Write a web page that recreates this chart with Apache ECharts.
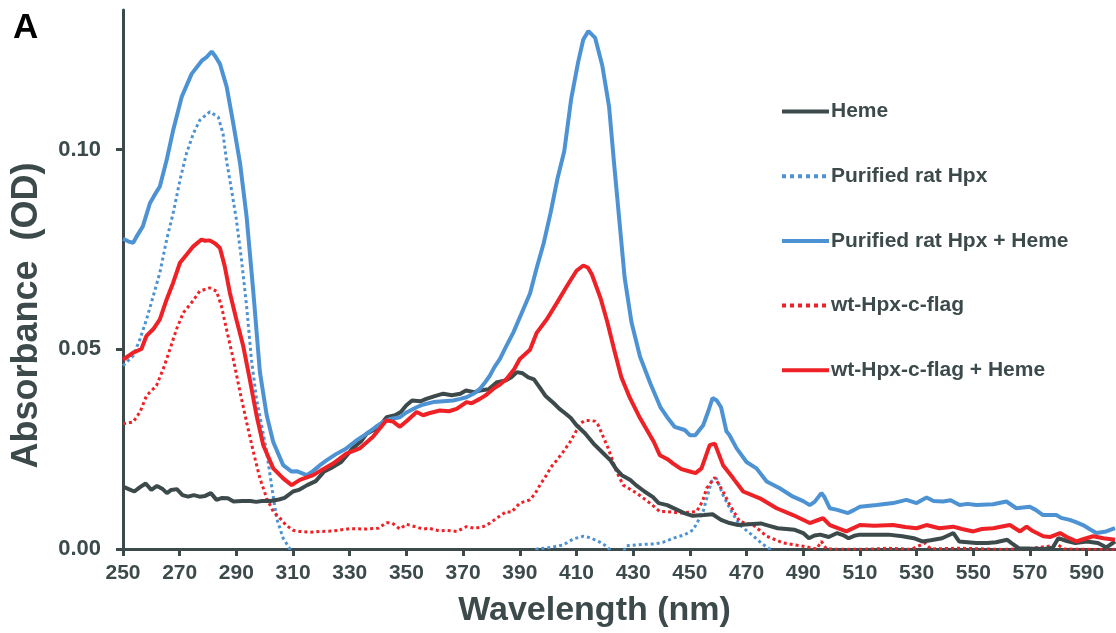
<!DOCTYPE html>
<html>
<head>
<meta charset="utf-8">
<script src="https://cdn.jsdelivr.net/npm/echarts@6/dist/echarts.min.js"></script>
<style>
  html, body { margin: 0; padding: 0; background: #fff; }
  #chartDiv { width: 1116px; height: 633px; }
</style>
</head>
<body>
<div id="chartDiv"></div>
<script>
// tick labels
var xTicks = [250, 270, 290, 310, 330, 350, 370, 390, 410, 430, 450, 470, 490, 510, 530, 550, 570, 590];
var yTicks = [0, 0.05, 0.10];

var seriesNames = ['Heme', 'Purified rat Hpx', 'Purified rat Hpx + Heme', 'wt-Hpx-c-flag', 'wt-Hpx-c-flag + Heme'];

// [wavelength nm, absorbance OD]
var hemeData = [
    [250, 0.0156], [252, 0.0150], [254, 0.0144], [256, 0.0155], [258, 0.0164], [260, 0.0148], [262, 0.0158],
    [264, 0.0150], [265.5, 0.0140], [267, 0.0148], [269, 0.0150], [271, 0.0135], [273, 0.0131], [275, 0.0135],
    [277, 0.0131], [279, 0.0133], [281, 0.0140], [283, 0.0123], [285, 0.0128], [287, 0.0127], [289, 0.0119],
    [292, 0.0120], [295, 0.0120], [297, 0.0118], [299, 0.0120], [302, 0.0120], [305, 0.0124], [307, 0.0128],
    [310, 0.0144], [312, 0.0148], [315, 0.0160], [318, 0.0170], [321, 0.0194], [324, 0.0205], [327, 0.0218],
    [329, 0.0235], [331, 0.0252], [334, 0.0270], [336, 0.0289], [339, 0.0300], [341, 0.0312], [343, 0.0330],
    [346, 0.0335], [348, 0.0343], [350, 0.0360], [352, 0.0372], [355, 0.0370], [357, 0.0376], [360, 0.0383],
    [363, 0.0389], [366, 0.0385], [369, 0.0389], [371, 0.0397], [374, 0.0393], [376, 0.0397], [379, 0.0400],
    [382, 0.0418], [385, 0.0422], [387, 0.0430], [389, 0.0443], [391, 0.0440], [393, 0.0430], [395, 0.0425],
    [397, 0.0405], [399, 0.0384], [402, 0.0365], [404, 0.0351], [406, 0.0340], [408, 0.0328], [410, 0.0310],
    [413, 0.0290], [416, 0.0264], [419, 0.0243], [422, 0.0222], [424, 0.0200], [426, 0.0185], [429, 0.0173],
    [431, 0.0160], [434, 0.0144], [437, 0.0130], [439, 0.0115], [442, 0.0110], [445, 0.0100], [448, 0.0090],
    [451, 0.0083], [455, 0.0085], [458, 0.0087], [461, 0.0073], [464, 0.0065], [467, 0.0060], [471, 0.0062],
    [475, 0.0064], [478, 0.0058], [481, 0.0052], [484, 0.0050], [487, 0.0048], [490, 0.0040], [492, 0.0027],
    [494, 0.0034], [496, 0.0036], [499, 0.0030], [502, 0.0040], [504, 0.0035], [506, 0.0027], [508, 0.0033],
    [510, 0.0036], [515, 0.0036], [520, 0.0036], [525, 0.0032], [529, 0.0027], [532, 0.0019], [535, 0.0022],
    [539, 0.0027], [543, 0.0040], [545, 0.0019], [548, 0.0017], [551, 0.0015], [555, 0.0015], [558, 0.0017],
    [562, 0.0023], [564, 0.0012], [566, 0.0002], [570, 0.0001], [575, 0.0000], [578, 0.0003], [580, 0.0027],
    [583, 0.0020], [586, 0.0015], [590, 0.0019], [594, 0.0015], [597, 0.0004], [600, 0.0019]
];

var hpxData = [
    [250, 0.0459], [253.6, 0.0484], [256, 0.0526], [258.3, 0.0575], [260.7, 0.0634], [263, 0.0692],
    [265.4, 0.0775], [267.7, 0.0841], [270.1, 0.0924], [272.4, 0.0991], [274.8, 0.1040], [277.1, 0.1074],
    [280.6, 0.1095], [283.6, 0.1082], [285.3, 0.1040], [286.5, 0.0974], [288.3, 0.0899], [290, 0.0825],
    [291.8, 0.0725], [293.6, 0.0609], [295.3, 0.0476], [297.1, 0.0376], [298.9, 0.0310], [300.7, 0.0243],
    [302.4, 0.0160], [304.2, 0.0077], [306.5, 0.0027], [308.9, 0.0000], [311, -0.004], [394, -0.004],
    [396, 0.0000], [400, 0.0003], [405.3, 0.0010], [408.8, 0.0025], [412.4, 0.0032], [415, 0.0028],
    [418.3, 0.0017], [421, 0.0005], [423.5, -0.002], [425.5, -0.002], [427.7, 0.0008], [431, 0.0010],
    [434.7, 0.0012], [438, 0.0013], [440.6, 0.0017], [445.3, 0.0030], [448, 0.0035], [451.2, 0.0048],
    [454.7, 0.0094], [457.6, 0.0169], [459.4, 0.0177], [461.7, 0.0135], [464.7, 0.0094], [467.6, 0.0060],
    [471.8, 0.0036], [475.9, 0.0011], [478.2, 0.0000], [480, -0.004], [600, -0.004]
];

var hpxHemeData = [
    [250, 0.0777], [252, 0.0770], [253.6, 0.0767], [255, 0.0785], [257, 0.0808], [259.5, 0.0866], [261, 0.0885],
    [263, 0.0908], [265.4, 0.0974], [267.7, 0.1049], [270.7, 0.1132], [274.2, 0.1190], [277.8, 0.1223],
    [279.5, 0.1232], [281.3, 0.1246], [282.5, 0.1235], [284.2, 0.1215], [286.6, 0.1157], [288.9, 0.1066],
    [291.3, 0.0966], [293.6, 0.0833], [296, 0.0642], [298.3, 0.0443], [300.7, 0.0335], [303, 0.0268],
    [306.5, 0.0210], [309.5, 0.0194], [311.3, 0.0195], [314.8, 0.0185], [317, 0.0195], [319.5, 0.0210],
    [321.8, 0.0222], [325, 0.0237], [328.8, 0.0252], [332, 0.0270], [336, 0.0289], [339, 0.0305],
    [341.8, 0.0318], [344, 0.0325], [347.7, 0.0330], [350, 0.0342], [353.6, 0.0355], [356, 0.0362],
    [359.5, 0.0368], [363, 0.0370], [366.5, 0.0372], [369, 0.0376], [371.2, 0.0380], [374, 0.0390],
    [375.9, 0.0401], [377.5, 0.0415], [379.4, 0.0434], [381, 0.0455], [383, 0.0476], [385, 0.0505],
    [387.7, 0.0542], [391.2, 0.0600], [393.6, 0.0640], [396, 0.0705], [398.4, 0.0765], [400.9, 0.0843],
    [403.3, 0.0928], [405.7, 0.0997], [408.1, 0.1126], [410.6, 0.1220], [412.4, 0.1276], [414.2, 0.1297],
    [416.6, 0.1280], [419.1, 0.1211], [421.5, 0.1108], [423.3, 0.0963], [425.1, 0.0825], [427, 0.0679],
    [429.4, 0.0568], [432.4, 0.0482], [436.1, 0.0414], [439.7, 0.0354], [442, 0.0330], [444.6, 0.0306],
    [448.2, 0.0298], [450, 0.0285], [451.9, 0.0285], [454.7, 0.0310], [456.5, 0.0345], [458, 0.0378],
    [459.5, 0.0372], [461, 0.0355], [462.9, 0.0295], [464, 0.0285], [466.5, 0.0252], [470, 0.0218],
    [473.5, 0.0202], [477.1, 0.0169], [481.7, 0.0152], [486.4, 0.0131], [490, 0.0120], [492.3, 0.0110],
    [494, 0.0118], [496.4, 0.0140], [497.5, 0.0130], [499.4, 0.0102], [502, 0.0098], [505.8, 0.0090],
    [508, 0.0098], [510, 0.0106], [515.9, 0.0110], [521.7, 0.0115], [526.4, 0.0123], [530, 0.0115],
    [533.5, 0.0129], [536, 0.0120], [539.3, 0.0119], [542, 0.0122], [545.2, 0.0110], [548, 0.0113],
    [551.1, 0.0110], [557, 0.0112], [561.7, 0.0119], [565.2, 0.0102], [569.9, 0.0106], [572, 0.0098],
    [574.6, 0.0085], [579.3, 0.0085], [581, 0.0078], [584, 0.0073], [586, 0.0068], [588.7, 0.0060],
    [591, 0.0050], [593.4, 0.0040], [596.9, 0.0044], [600, 0.0052]
];

var wtData = [
    [250, 0.0314], [253.6, 0.0318], [256, 0.0343], [258.3, 0.0384], [261.8, 0.0409], [264.2, 0.0451],
    [266.6, 0.0501], [268.9, 0.0551], [271.3, 0.0592], [274.2, 0.0617], [277.1, 0.0646], [280.6, 0.0654],
    [283, 0.0646], [284.7, 0.0609], [286.5, 0.0551], [288.9, 0.0476], [291.3, 0.0393], [293.6, 0.0318],
    [296, 0.0243], [298.3, 0.0177], [300.7, 0.0127], [303, 0.0094], [305.4, 0.0077], [307.5, 0.0060],
    [310, 0.0047], [312.4, 0.0044], [315.9, 0.0042], [320, 0.0044], [324.1, 0.0045], [330, 0.0051],
    [336, 0.0050], [340, 0.0052], [343, 0.0066], [345, 0.0065], [347.7, 0.0050], [350, 0.0062],
    [352, 0.0058], [355.9, 0.0050], [358, 0.0052], [361.8, 0.0045], [364, 0.0047], [367.7, 0.0044],
    [371.2, 0.0056], [374, 0.0052], [377.1, 0.0056], [379.5, 0.0065], [381.8, 0.0077], [385.3, 0.0094],
    [387, 0.0092], [390, 0.0115], [393.6, 0.0123], [395.5, 0.0140], [397.1, 0.0160], [399.4, 0.0185],
    [401, 0.0205], [403, 0.0222], [405.5, 0.0245], [407.7, 0.0268], [409.5, 0.0290], [411.2, 0.0314],
    [413, 0.0322], [414.7, 0.0322], [416.5, 0.0320], [417.7, 0.0310], [419.5, 0.0280], [421.2, 0.0252],
    [424.1, 0.0194], [426.5, 0.0160], [431.2, 0.0140], [435.9, 0.0115], [439.4, 0.0094], [441.8, 0.0094],
    [446.5, 0.0090], [452.4, 0.0094], [454.5, 0.0120], [455.9, 0.0152], [458.8, 0.0179], [461.7, 0.0144],
    [464.1, 0.0110], [467.6, 0.0069], [472.4, 0.0060], [477.1, 0.0032], [483, 0.0015], [490, 0.0007],
    [494.7, 0.0000], [496.4, 0.0019], [498.2, 0.0000], [505, -0.0001], [515, 0.0000], [520, 0.0002],
    [528, -0.0001], [533, 0.0015], [535, 0.0000], [545, 0.0002], [560, -0.0001], [570, 0.0001],
    [580, 0.0010], [582, 0.0000], [600, -0.0002]
];

var wtHemeData = [
    [250, 0.0474], [253.6, 0.0492], [256.5, 0.0501], [258.3, 0.0534], [260.7, 0.0551], [263, 0.0575],
    [265.4, 0.0625], [267.7, 0.0667], [270.1, 0.0717], [272.4, 0.0737], [274.8, 0.0758], [277.7, 0.0775],
    [279, 0.0772], [280.6, 0.0773], [282.5, 0.0765], [284.2, 0.0754], [285.9, 0.0708], [287.7, 0.0642],
    [290, 0.0575], [292.4, 0.0509], [294.7, 0.0426], [297.1, 0.0335], [299.5, 0.0260], [303, 0.0202],
    [306.5, 0.0177], [309.5, 0.0160], [312.4, 0.0173], [317.1, 0.0185], [320, 0.0197], [324.1, 0.0214],
    [328.8, 0.0239], [333.5, 0.0252], [338.2, 0.0281], [342.9, 0.0322], [345.3, 0.0319], [347.7, 0.0306],
    [350, 0.0320], [353.6, 0.0343], [355.9, 0.0335], [358, 0.0340], [361.8, 0.0347], [365, 0.0345],
    [367.7, 0.0351], [371.2, 0.0368], [373, 0.0365], [375.9, 0.0376], [378, 0.0385], [380.6, 0.0401],
    [383, 0.0412], [385.3, 0.0426], [388, 0.0450], [390, 0.0476], [393.6, 0.0499], [396, 0.0542],
    [399.6, 0.0576], [403.3, 0.0619], [406.9, 0.0662], [410, 0.0697], [412.4, 0.0710], [414, 0.0705],
    [415.4, 0.0688], [418.5, 0.0628], [420.9, 0.0568], [423.3, 0.0499], [425.8, 0.0431], [428.8, 0.0379],
    [432.4, 0.0328], [437.3, 0.0268], [439.4, 0.0235], [442.1, 0.0225], [444.1, 0.0214], [447, 0.0200],
    [450, 0.0194], [452, 0.0190], [454.1, 0.0202], [457, 0.0260], [458.8, 0.0264], [461.7, 0.0210],
    [465.3, 0.0177], [468.8, 0.0144], [474.7, 0.0127], [480.6, 0.0102], [486.4, 0.0085], [492.3, 0.0065],
    [495, 0.0072], [497, 0.0077], [499.4, 0.0060], [505.2, 0.0044], [510, 0.0060], [515, 0.0058],
    [521.7, 0.0060], [526, 0.0055], [530, 0.0052], [533.5, 0.0060], [538, 0.0052], [542.9, 0.0056],
    [546, 0.0050], [550, 0.0044], [553, 0.0050], [557, 0.0052], [562.9, 0.0060], [566.5, 0.0044],
    [568.8, 0.0056], [571, 0.0045], [574.7, 0.0032], [577, 0.0030], [580.6, 0.0040], [583, 0.0030],
    [586.4, 0.0019], [589, 0.0025], [592.3, 0.0032], [595.9, 0.0027], [600, 0.0023]
];

var TEXT_COLOR = '#3d4a4b';
var FONT = '"Liberation Sans", Arial, sans-serif';

var chartDiv = echarts.init(document.getElementById('chartDiv'));

function makeLine(name, data, color, dotted) {
    return {
        name: name,
        type: 'line',
        data: data,
        symbol: 'none',
        clip: true,
        lineStyle: {
            color: color,
            width: dotted ? 3 : 4,
            type: dotted ? 'dotted' : 'solid'
        },
        itemStyle: { color: color },
        z: dotted ? 2 : 3
    };
}

var option = {
    backgroundColor: '#fff',
    animation: false,
    title: {
        text: 'A',
        left: 8,
        top: 6,
        textStyle: { fontFamily: FONT, fontWeight: 'bold', fontSize: 35, color: '#000' }
    },
    legend: {
        orient: 'vertical',
        left: 780,
        top: 101,
        padding: 0,
        itemWidth: 47,
        itemHeight: 3,
        itemGap: 43.7,
        itemStyle: { opacity: 0 },
        lineStyle: { width: 4 },
        data: seriesNames,
        textStyle: { fontFamily: FONT, fontWeight: 'bold', fontSize: 21, color: TEXT_COLOR, padding: [0, 0, 0, -3] }
    },
    grid: { left: 123, right: 1, top: 10, bottom: 82 },
    xAxis: {
        type: 'value',
        min: 250,
        max: 600,
        name: 'Wavelength (nm)',
        nameLocation: 'middle',
        nameGap: 45,
        nameTextStyle: { fontFamily: FONT, fontWeight: 'bold', fontSize: 34, color: TEXT_COLOR, padding: [0, 49, 0, 0] },
        axisLine: { lineStyle: { color: TEXT_COLOR, width: 3 } },
        axisTick: { customValues: xTicks, length: 7, lineStyle: { color: TEXT_COLOR, width: 3 } },
        axisLabel: {
            customValues: xTicks,
            margin: 14,
            fontFamily: FONT, fontWeight: 'bold', fontSize: 21, color: TEXT_COLOR
        },
        splitLine: { show: false }
    },
    yAxis: {
        type: 'value',
        min: 0,
        max: 0.135,
        name: 'Absorbance  (OD)',
        nameLocation: 'middle',
        nameGap: 78,
        nameTextStyle: { fontFamily: FONT, fontWeight: 'bold', fontSize: 36, color: TEXT_COLOR, padding: [0, 72, 0, 0] },
        axisLine: { show: true, lineStyle: { color: TEXT_COLOR, width: 3 } },
        axisTick: { show: true, customValues: yTicks, length: 7, lineStyle: { color: TEXT_COLOR, width: 3 } },
        axisLabel: {
            customValues: yTicks,
            margin: 22,
            fontFamily: FONT, fontWeight: 'bold', fontSize: 22, color: TEXT_COLOR,
            formatter: function (v) { return v.toFixed(2); }
        },
        splitLine: { show: false }
    },
    series: [
        makeLine(seriesNames[0], hemeData, '#3d4a4b', false),
        makeLine(seriesNames[1], hpxData, '#4d93d3', true),
        makeLine(seriesNames[2], hpxHemeData, '#4d93d3', false),
        makeLine(seriesNames[3], wtData, '#ee2126', true),
        makeLine(seriesNames[4], wtHemeData, '#ee2126', false)
    ]
};

chartDiv.setOption(option);
</script>
</body>
</html>
